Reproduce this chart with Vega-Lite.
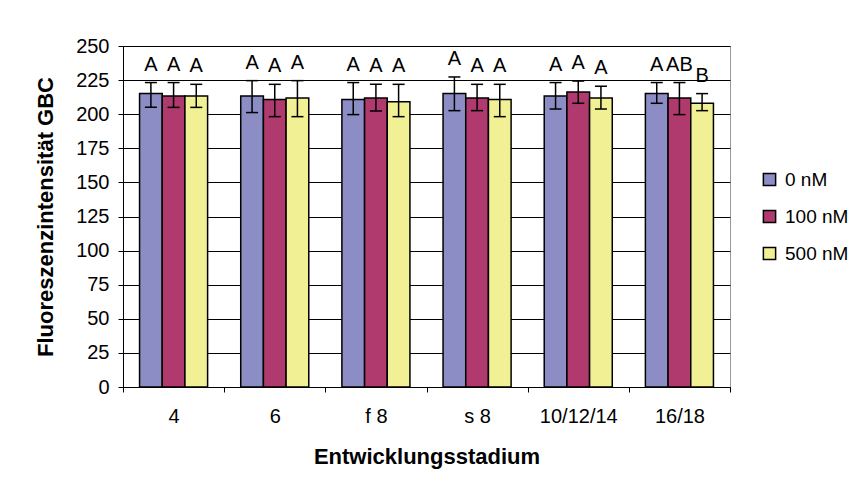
{
  "$schema": "https://vega.github.io/schema/vega-lite/v6.json",
  "width": 607,
  "height": 341,
  "autosize": {"type": "none"},
  "padding": {"left": 123, "top": 46, "right": 126, "bottom": 111},
  "background": "white",
  "config": {
    "font": "Liberation Sans",
    "view": {"stroke": "#999999", "strokeWidth": 1},
    "axisY": {
      "grid": true,
      "gridColor": "black",
      "gridWidth": 1,
      "gridOpacity": 1,
      "tickSize": 5,
      "tickColor": "black",
      "domainColor": "black",
      "labelColor": "black",
      "labelFontSize": 20,
      "labelPadding": 9,
      "labelOverlap": false,
      "titleFontSize": 22,
      "titleFontWeight": "bold",
      "titleColor": "black",
      "titlePadding": 18
    }
  },
  "data": {
    "values": [
      {"stage": "4", "conc": "0 nM", "mean": 215.1, "lo": 205.1, "hi": 223.2, "letter": "A"},
      {"stage": "4", "conc": "100 nM", "mean": 213.3, "lo": 205.0, "hi": 223.2, "letter": "A"},
      {"stage": "4", "conc": "500 nM", "mean": 213.3, "lo": 205.0, "hi": 221.9, "letter": "A"},
      {"stage": "6", "conc": "0 nM", "mean": 213.3, "lo": 201.2, "hi": 224.6, "letter": "A"},
      {"stage": "6", "conc": "100 nM", "mean": 210.7, "lo": 198.2, "hi": 221.9, "letter": "A"},
      {"stage": "6", "conc": "500 nM", "mean": 211.9, "lo": 198.2, "hi": 224.6, "letter": "A"},
      {"stage": "f 8", "conc": "0 nM", "mean": 210.7, "lo": 199.7, "hi": 223.2, "letter": "A"},
      {"stage": "f 8", "conc": "100 nM", "mean": 211.9, "lo": 202.4, "hi": 221.9, "letter": "A"},
      {"stage": "f 8", "conc": "500 nM", "mean": 209.2, "lo": 198.2, "hi": 221.9, "letter": "A"},
      {"stage": "s 8", "conc": "0 nM", "mean": 215.1, "lo": 202.6, "hi": 227.3, "letter": "A"},
      {"stage": "s 8", "conc": "100 nM", "mean": 211.9, "lo": 202.6, "hi": 221.9, "letter": "A"},
      {"stage": "s 8", "conc": "500 nM", "mean": 210.7, "lo": 198.2, "hi": 221.9, "letter": "A"},
      {"stage": "10/12/14", "conc": "0 nM", "mean": 213.3, "lo": 203.8, "hi": 223.2, "letter": "A"},
      {"stage": "10/12/14", "conc": "100 nM", "mean": 216.3, "lo": 208.0, "hi": 224.3, "letter": "A"},
      {"stage": "10/12/14", "conc": "500 nM", "mean": 211.9, "lo": 203.8, "hi": 220.5, "letter": "A"},
      {"stage": "16/18", "conc": "0 nM", "mean": 215.1, "lo": 208.0, "hi": 223.2, "letter": "A"},
      {"stage": "16/18", "conc": "100 nM", "mean": 211.9, "lo": 199.7, "hi": 223.2, "letter": "AB"},
      {"stage": "16/18", "conc": "500 nM", "mean": 208.0, "lo": 202.6, "hi": 215.1, "letter": "B"}
    ]
  },
  "encoding": {
    "x": {
      "field": "stage",
      "type": "nominal",
      "sort": ["4", "6", "f 8", "s 8", "10/12/14", "16/18"],
      "scale": {"paddingInner": 0, "paddingOuter": 0},
      "axis": {
        "title": "Entwicklungsstadium",
        "labelAngle": 0,
        "tickBand": "extent",
        "tickSize": 5,
        "tickColor": "black",
        "domainColor": "black",
        "labelColor": "black",
        "labelFontSize": 20,
        "labelPadding": 14,
        "titleFontSize": 22,
        "titleFontWeight": "bold",
        "titleColor": "black",
        "titlePadding": 20,
        "grid": false
      }
    },
    "xOffset": {
      "field": "conc",
      "type": "nominal",
      "sort": ["0 nM", "100 nM", "500 nM"],
      "scale": {"paddingInner": 0, "paddingOuter": 0.73}
    }
  },
  "layer": [
    {
      "mark": {"type": "bar", "stroke": "black", "strokeWidth": 1.5},
      "encoding": {
        "y": {
          "field": "mean",
          "type": "quantitative",
          "scale": {"domain": [0, 250], "nice": false},
          "axis": {"title": "Fluoreszenzintensität GBC", "values": [0, 25, 50, 75, 100, 125, 150, 175, 200, 225, 250]}
        },
        "color": {
          "field": "conc",
          "type": "nominal",
          "sort": ["0 nM", "100 nM", "500 nM"],
          "scale": {"range": ["#8B8DC4", "#B0396E", "#F2F094"]},
          "legend": {
            "title": null,
            "orient": "none",
            "legendX": 637,
            "legendY": 124,
            "symbolType": "square",
            "symbolSize": 150,
            "symbolStrokeColor": "black",
            "symbolStrokeWidth": 1.5,
            "symbolOpacity": 1,
            "labelFontSize": 19,
            "labelColor": "black",
            "labelOffset": 6,
            "rowPadding": 17,
            "padding": 0
          }
        }
      }
    },
    {
      "mark": {"type": "rule", "color": "black", "strokeWidth": 1.5},
      "encoding": {
        "y": {"field": "lo", "type": "quantitative", "axis": {"title": "Fluoreszenzintensität GBC", "values": [0, 25, 50, 75, 100, 125, 150, 175, 200, 225, 250]}},
        "y2": {"field": "hi"}
      }
    },
    {
      "mark": {"type": "tick", "orient": "horizontal", "color": "black", "thickness": 1.5, "size": 12, "opacity": 1},
      "encoding": {
        "y": {"field": "lo", "type": "quantitative", "axis": {"title": "Fluoreszenzintensität GBC", "values": [0, 25, 50, 75, 100, 125, 150, 175, 200, 225, 250]}}
      }
    },
    {
      "mark": {"type": "tick", "orient": "horizontal", "color": "black", "thickness": 1.5, "size": 12, "opacity": 1},
      "encoding": {
        "y": {"field": "hi", "type": "quantitative", "axis": {"title": "Fluoreszenzintensität GBC", "values": [0, 25, 50, 75, 100, 125, 150, 175, 200, 225, 250]}}
      }
    },
    {
      "mark": {"type": "text", "baseline": "bottom", "dy": -8, "fontSize": 20, "color": "black"},
      "encoding": {
        "y": {"field": "hi", "type": "quantitative", "axis": {"title": "Fluoreszenzintensität GBC", "values": [0, 25, 50, 75, 100, 125, 150, 175, 200, 225, 250]}},
        "text": {"field": "letter"}
      }
    }
  ]
}
